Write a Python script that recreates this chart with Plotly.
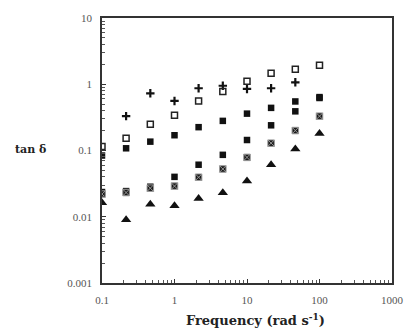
import plotly.graph_objects as go

freq = [0.1, 0.215, 0.464, 1.0, 2.15, 4.64, 10.0, 21.5, 46.4, 100.0]
freq_plus = [0.215, 0.464, 1.0, 2.15, 4.64, 10.0, 21.5, 46.4]
tan_plus = [0.33, 0.73, 0.56, 0.87, 0.95, 0.85, 0.87, 1.07]
tan_open_sq = [0.115, 0.153, 0.25, 0.34, 0.56, 0.78, 1.11, 1.46, 1.69, 1.94]
tan_sq_high = [0.084, 0.108, 0.136, 0.17, 0.225, 0.28, 0.36, 0.44, 0.55, 0.64]
tan_sq_low = [0.0236, 0.0244, 0.0284, 0.040, 0.061, 0.086, 0.144, 0.24, 0.39, 0.62]
tan_xsq = [0.022, 0.0232, 0.027, 0.029, 0.0395, 0.0526, 0.0787, 0.129, 0.20, 0.33]
tan_tri = [0.0163, 0.009, 0.0155, 0.0146, 0.0188, 0.023, 0.0345, 0.061, 0.105, 0.18]

x_ticks = [0.1, 1, 10, 100, 1000]
x_labels = ["0.1", "1", "10", "100", "1000"]
y_ticks = [0.001, 0.01, 0.1, 1, 10]
y_labels = ["0.001", "0.01", "0.1", "1", "10"]

def minors(lo, hi):
    vals = []
    d = lo
    while d < hi:
        vals += [d * k for k in range(2, 10)]
        d *= 10
    return vals

fig = go.Figure()
fig.add_trace(go.Scatter(x=freq_plus, y=tan_plus, mode="markers",
                         marker=dict(symbol="cross-thin", size=6, color="#111",
                                     line=dict(width=2.2, color="#111"))))
fig.add_trace(go.Scatter(x=freq, y=tan_open_sq, mode="markers",
                         marker=dict(symbol="square-open", size=6, color="#222",
                                     line=dict(width=1.5, color="#222"))))
fig.add_trace(go.Scatter(x=freq, y=tan_sq_high, mode="markers",
                         marker=dict(symbol="square", size=6.5, color="#111")))
fig.add_trace(go.Scatter(x=freq, y=tan_sq_low, mode="markers",
                         marker=dict(symbol="square", size=6.5, color="#111")))
fig.add_trace(go.Scatter(x=freq, y=tan_xsq, mode="markers",
                         marker=dict(symbol="square-x", size=6.5, color="#1a1a1a",
                                     line=dict(width=1, color="#999"))))
fig.add_trace(go.Scatter(x=freq, y=tan_tri, mode="markers",
                         marker=dict(symbol="triangle-up", size=9, color="#111")))

axis_common = dict(type="log", showgrid=False, zeroline=False, showline=True,
                   linecolor="#333", linewidth=1.5, mirror=True, ticks="inside",
                   ticklen=4, tickcolor="#333", ticklabelstandoff=6,
                   tickfont=dict(family="Liberation Serif", size=11, color="#555"))

fig.update_xaxes(range=[-1, 3], tickvals=x_ticks, ticktext=x_labels,
                 minor=dict(ticks="inside", ticklen=3, tickcolor="#555",
                            tickmode="array", tickvals=minors(0.1, 1000), showgrid=False),
                 **axis_common)
fig.update_yaxes(range=[-3, 1], tickvals=y_ticks, ticktext=y_labels,
                 minor=dict(ticks="inside", ticklen=3, tickcolor="#555",
                            tickmode="array", tickvals=minors(0.001, 10), showgrid=False),
                 **axis_common)

fig.add_annotation(text="<b>tan δ</b>", xref="paper", yref="paper", x=-0.245, y=0.505,
                   xanchor="center", yanchor="middle", showarrow=False,
                   font=dict(family="DejaVu Serif", size=11, color="#222"))
fig.add_annotation(text="<b>Frequency (rad s<sup>-1</sup>)</b>", xref="paper", yref="paper",
                   x=0.53, y=-0.178, xanchor="center", yanchor="bottom", showarrow=False,
                   font=dict(family="DejaVu Serif", size=13, color="#222"))

fig.update_layout(width=417, height=331, showlegend=False,
                  margin=dict(l=102, r=25, t=15, b=48),
                  paper_bgcolor="white", plot_bgcolor="white")
fig.write_html("out.html")
